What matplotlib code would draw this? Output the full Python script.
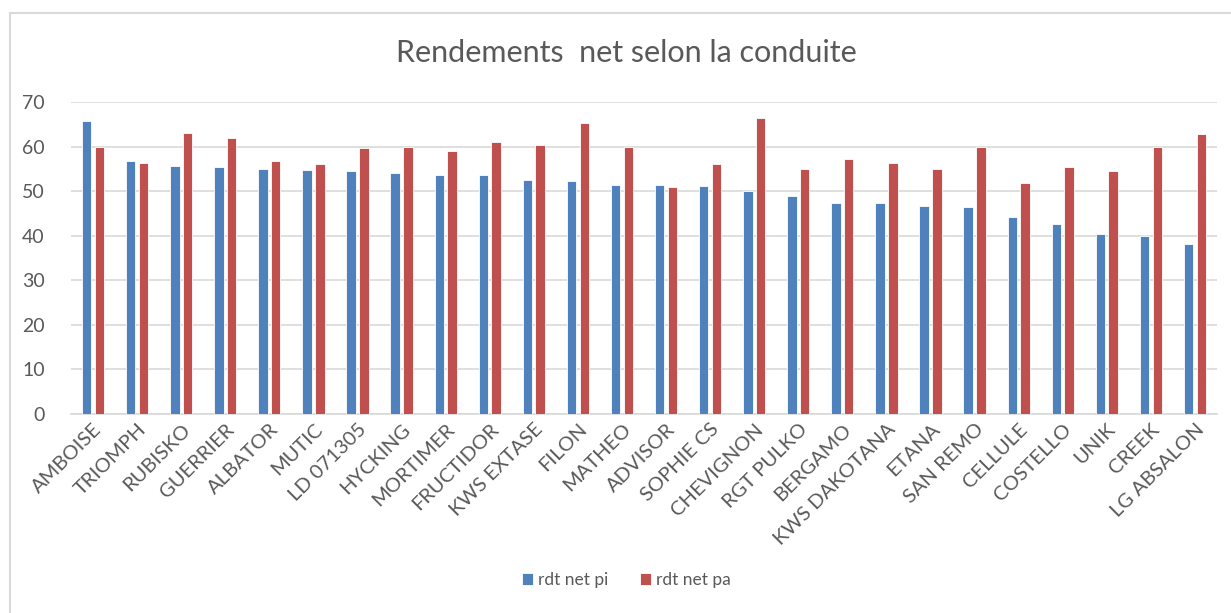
import numpy as np
import matplotlib
matplotlib.use("Agg")
from matplotlib import pyplot as plt
from matplotlib.lines import Line2D

varietes = ["AMBOISE", "TRIOMPH", "RUBISKO", "GUERRIER", "ALBATOR", "MUTIC",
            "LD 071305", "HYCKING", "MORTIMER", "FRUCTIDOR", "KWS EXTASE", "FILON",
            "MATHEO", "ADVISOR", "SOPHIE CS", "CHEVIGNON", "RGT PULKO", "BERGAMO",
            "KWS DAKOTANA", "ETANA", "SAN REMO", "CELLULE", "COSTELLO", "UNIK",
            "CREEK", "LG ABSALON"]
rdt_net_pi = [65.7, 56.7, 55.7, 55.4, 55.1, 54.8, 54.6, 54.0, 53.6, 53.6, 52.5, 52.3,
              51.5, 51.5, 51.2, 50.0, 48.9, 47.3, 47.3, 46.8, 46.4, 44.3, 42.7, 40.3,
              39.9, 38.1]
rdt_net_pa = [60.0, 56.4, 63.1, 61.9, 56.9, 56.1, 59.8, 60.0, 59.0, 61.1, 60.3, 65.3,
              60.0, 50.9, 56.1, 66.5, 55.1, 57.2, 56.4, 55.1, 60.0, 51.8, 55.4, 54.6,
              60.0, 62.9]
series_names = ["rdt net pi", "rdt net pa"]

plt.rcParams['font.family'] = ['Lato', 'DejaVu Sans']
grey = '#595959'

fig = plt.figure(figsize=(12.31, 6.13), dpi=100)
ax = fig.add_axes([71 / 1231, 1 - 413.7 / 613, (1217 - 71) / 1231, (413.7 - 102.3) / 613])

x = np.arange(len(varietes))
w = 0.215
ax.bar(x - 0.145, rdt_net_pi, w, color='#4F81BD', edgecolor='white', linewidth=0.6,
       label=series_names[0], zorder=3)
ax.bar(x + 0.145, rdt_net_pa, w, color='#C0504D', edgecolor='white', linewidth=0.6,
       label=series_names[1], zorder=3)

ax.set_xlim(-0.5, len(varietes) - 0.5)
ax.set_ylim(0, 70)
ax.set_yticks(range(0, 71, 10))
ax.grid(axis='y', color='#D9D9D9', linewidth=1.2, zorder=0)
for s in ['top', 'right', 'left']:
    ax.spines[s].set_visible(False)
ax.spines['bottom'].set_color('#D9D9D9')
ax.spines['bottom'].set_linewidth(1.2)
ax.tick_params(axis='both', length=0, colors=grey)
ax.tick_params(axis='y', pad=19, labelsize=14)
ax.set_xticks(x)
ax.set_xticklabels(varietes, rotation=45, ha='right', rotation_mode='anchor', fontsize=14.5)
ax.tick_params(axis='x', pad=5)

fig.text(0.509, 1 - 53 / 613, "Rendements  net selon la conduite", ha='center', va='center',
         fontsize=22, color=grey)

fig.legend(loc='center', bbox_to_anchor=(0.509, 1 - 580 / 613), ncol=2, frameon=False,
           fontsize=12.5, labelcolor=grey, handlelength=0.65, handleheight=0.65,
           columnspacing=1.8, handletextpad=0.3)

# chart frame
fig.add_artist(Line2D([10 / 1231, 1], [1 - 13 / 613] * 2, transform=fig.transFigure,
                      color='#D9D9D9', linewidth=1.5))
fig.add_artist(Line2D([10 / 1231] * 2, [0, 1 - 13 / 613], transform=fig.transFigure,
                      color='#D9D9D9', linewidth=1.5))

fig.savefig("out.png", dpi=100)
